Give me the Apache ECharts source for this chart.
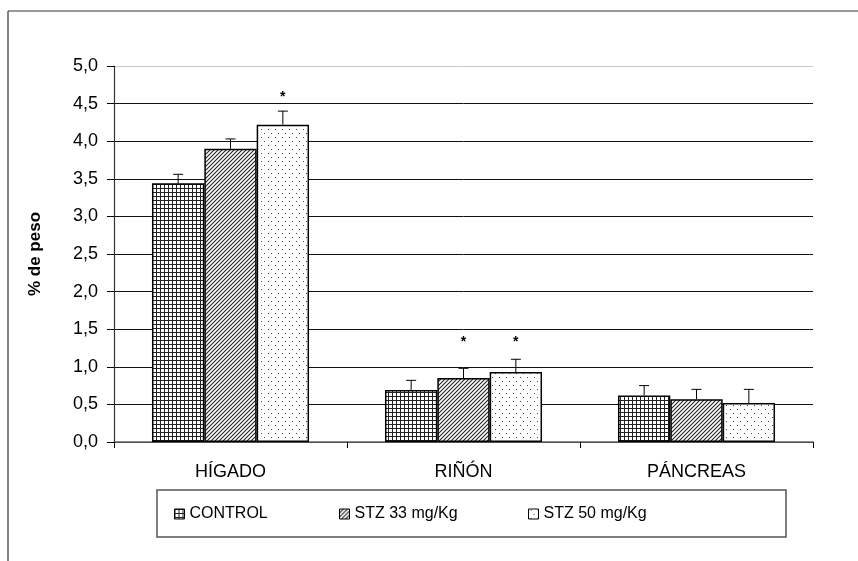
<!DOCTYPE html>
<html>
<head>
<meta charset="utf-8">
<script src="https://cdn.jsdelivr.net/npm/echarts@6/dist/echarts.min.js"></script>
<style>
html,body{margin:0;padding:0;background:#fff;}
#chart{width:858px;height:561px;}
</style>
</head>
<body>
<div id="chart"></div>
<script>
// ---- data ----
const categories = ['HÍGADO', 'RIÑÓN', 'PÁNCREAS'];
const seriesNames = ['CONTROL', 'STZ 33 mg/Kg', 'STZ 50 mg/Kg'];
const controlValues = [3.44, 0.69, 0.62];
const stz33Values = [3.90, 0.85, 0.57];
const stz50Values = [4.22, 0.93, 0.52];
const controlErrors = [0.12, 0.13, 0.13];
const stz33Errors = [0.13, 0.13, 0.13];
const stz50Errors = [0.18, 0.17, 0.18];
// significance marks: value level of the star (null = none)
const controlStars = [null, null, null];
const stz33Stars = [null, 1.33, null];
const stz50Stars = [4.59, 1.33, null];
const yTicks = ['0,0','0,5','1,0','1,5','2,0','2,5','3,0','3,5','4,0','4,5','5,0'];

// ---- patterns ----
function makePattern(kind) {
  const c = document.createElement('canvas');
  const ctx = c.getContext('2d');
  if (kind === 'grid') {
    c.width = 4; c.height = 4;
    ctx.fillStyle = '#fff'; ctx.fillRect(0,0,4,4);
    ctx.fillStyle = '#222';
    ctx.fillRect(0,0,4,1);
    ctx.fillRect(0,0,1,4);
  } else if (kind === 'hatch') {
    c.width = 4; c.height = 4;
    ctx.fillStyle = '#fff'; ctx.fillRect(0,0,4,4);
    ctx.strokeStyle = '#222'; ctx.lineWidth = 1.1;
    ctx.beginPath();
    ctx.moveTo(-1,5); ctx.lineTo(5,-1);
    ctx.moveTo(-1,1); ctx.lineTo(1,-1);
    ctx.moveTo(3,5); ctx.lineTo(5,3);
    ctx.stroke();
  } else {
    c.width = 7; c.height = 8;
    ctx.fillStyle = '#fff'; ctx.fillRect(0,0,7,8);
    ctx.fillStyle = '#444';
    ctx.fillRect(2,1,1,1);
    ctx.fillRect(5,5,1,1);
  }
  return {image: c, repeat: 'repeat'};
}
const patterns = [makePattern('grid'), makePattern('hatch'), makePattern('dots')];

const valueSets = [controlValues, stz33Values, stz50Values];
const errorSets = [controlErrors, stz33Errors, stz50Errors];
const starSets = [controlStars, stz33Stars, stz50Stars];

const chart = echarts.init(document.getElementById('chart'), null, {renderer: 'canvas'});

const FONT = 'Liberation Sans, Arial, sans-serif';
const GAP = 0.326;
function errRender(idx) {
  return function (params, api) {
    const ci = api.value(0);
    const v = api.value(1);
    const e = api.value(2);
    const s = api.value(3);
    const band = api.size([1, 0])[0];
    const bw = band * (1 - GAP) / 3;
    const base = api.coord([ci, v]);
    const cx = base[0] + (idx - 1) * bw;
    const top = api.coord([ci, v + e])[1];
    const children = [
      {type: 'line', shape: {x1: cx, y1: base[1], x2: cx, y2: top}, style: {stroke: '#000', lineWidth: 1}},
      {type: 'line', shape: {x1: cx - 5, y1: top, x2: cx + 5, y2: top}, style: {stroke: '#000', lineWidth: 1}}
    ];
    if (!isNaN(s)) {
      const sy = api.coord([ci, s])[1];
      children.push({type: 'text', style: {text: '*', x: cx, y: sy, align: 'center', verticalAlign: 'middle',
        fontSize: 14, fontWeight: 'bold', fontFamily: FONT, fill: '#000'}});
    }
    return {type: 'group', children};
  };
}

const series = [];
for (let i = 0; i < 3; i++) {
  series.push({
    name: seriesNames[i],
    type: 'bar',
    data: valueSets[i],
    barGap: '0%',
    barCategoryGap: (GAP * 100) + '%',
    itemStyle: {color: patterns[i], borderColor: '#000', borderWidth: 1.5},
    emphasis: {disabled: true},
    animation: false
  });
}
for (let i = 0; i < 3; i++) {
  series.push({
    type: 'custom',
    name: 'err' + i,
    renderItem: errRender(i),
    data: categories.map((c, k) => [k, valueSets[i][k], errorSets[i][k], starSets[i][k] === null ? NaN : starSets[i][k]]),
    encode: {x: 0, y: 1},
    z: 5,
    silent: true,
    animation: false
  });
}

const legendFont = {fontSize: 16, fontFamily: FONT, color: '#000'};
const legendLefts = [174, 339, 528];
const legends = seriesNames.map((n, i) => ({
  data: [n],
  left: legendLefts[i],
  top: 506,
  itemWidth: 10,
  itemHeight: 10,
  icon: 'rect',
  padding: 0,
  selectedMode: false,
  textStyle: legendFont,
  itemStyle: {borderColor: '#000', borderWidth: 1}
}));

const splitColors = yTicks.map((t, i) => i === yTicks.length - 1 ? '#c8c8c8' : '#111');

chart.setOption({
  backgroundColor: '#fff',
  animation: false,
  grid: {left: 114, right: 45, top: 66, bottom: 119, containLabel: false},
  legend: legends,
  xAxis: {
    type: 'category',
    data: categories,
    axisLine: {show: true, lineStyle: {color: '#666', width: 1.5}},
    axisTick: {show: true, length: 6, lineStyle: {color: '#000'}},
    axisLabel: {fontSize: 18, fontFamily: FONT, color: '#000', margin: 21},
    splitLine: {show: false}
  },
  yAxis: {
    type: 'value',
    min: 0, max: 5, interval: 0.5,
    name: '% de peso',
    nameLocation: 'middle',
    nameGap: 70,
    nameTextStyle: {fontSize: 17, fontWeight: 'bold', fontFamily: FONT, color: '#000'},
    axisLine: {show: true, lineStyle: {color: '#333', width: 1.2}},
    axisTick: {show: true, length: 7, inside: false, lineStyle: {color: '#000'}},
    axisLabel: {
      fontSize: 18, fontFamily: FONT, color: '#000', margin: 16,
      formatter: function (v) { return yTicks[Math.round(v / 0.5)]; }
    },
    splitLine: {show: true, lineStyle: {color: splitColors, width: 1}}
  },
  series: series,
  graphic: [
    {type: 'line', shape: {x1: 8, y1: 11, x2: 858, y2: 11}, style: {stroke: '#333', lineWidth: 1.2}, silent: true},
    {type: 'line', shape: {x1: 8, y1: 11, x2: 8, y2: 561}, style: {stroke: '#333', lineWidth: 1.2}, silent: true},
    {type: 'rect', shape: {x: 157, y: 490, width: 629, height: 47}, style: {fill: 'none', stroke: '#555', lineWidth: 1.5}, silent: true, z: -1}
  ]
});
</script>
</body>
</html>
